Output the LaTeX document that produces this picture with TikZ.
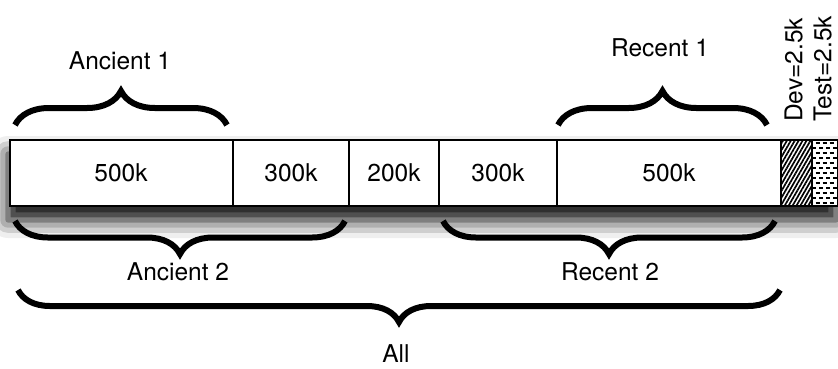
\documentclass[tikz,border=0pt]{standalone}
\usepackage{fontspec}
\setmainfont{TeX Gyre Heros}
\usetikzlibrary{decorations.pathreplacing,shadows.blur,patterns.meta}

\tikzset{
  lbl/.style={font=\fontsize{24.5}{29}\selectfont, inner sep=0pt},
  curly/.style={decorate, decoration={brace, amplitude=#1}, line width=6pt},
  curlydown/.style={decorate, decoration={brace, mirror, amplitude=#1}, line width=6pt},
}

\begin{document}
\begin{tikzpicture}[x=1pt,y=-1pt]
\useasboundingbox (0,0) rectangle (838,368);
\draw[line width=1.8pt, fill=white, blur shadow={shadow xshift=-2pt, shadow yshift=-14pt, shadow blur radius=18pt, shadow opacity=100}] (10,140) rectangle (838,206);
\foreach \x in {233,349,439,557}
  \draw[line width=1.1pt] (\x,140) -- (\x,206);
\draw[line width=1.8pt, pattern={Lines[angle=60, distance=3.4pt, line width=1.7pt]}] (781,140) rectangle (812,206);
\begin{scope}
\clip (812,141) rectangle (837,205);
\foreach \y [count=\i] in {143,148,...,206}
  \draw[line width=1.2pt, dash pattern=on 4pt off 3pt, dash phase={mod(\i,2)*3.5}] (812,\y) -- (838,\y);
\end{scope}
\draw[line width=1.8pt] (10,140) rectangle (838,206);
\draw[line width=1.8pt] (781,140) -- (781,206) (812,140) -- (812,206);

\node[lbl] (c500a) at (121,173) {500k};
\node[lbl] (c300a) at (291,173) {300k};
\node[lbl] (c200) at (394,173) {200k};
\node[lbl] (c300b) at (498,173) {300k};
\node[lbl] (c500b) at (669,173) {500k};

\node[lbl, rotate=90, anchor=south west] (dev) at (803,122) {Dev=2.5k};
\node[lbl, rotate=90, anchor=south west] (test) at (832,122) {Test=2.5k};

\coordinate (a1l) at (15,125);
\coordinate (a1r) at (227,125);
\coordinate (r1l) at (558,125);
\coordinate (r1r) at (767,125);
\coordinate (a2l) at (15,221);
\coordinate (a2r) at (345,221);
\coordinate (r2l) at (443,221);
\coordinate (r2r) at (775,221);
\coordinate (alll) at (18,290);
\coordinate (allr) at (780,290);

\draw[curly=34pt] (a1l) -- (a1r);
\draw[curly=34pt] (r1l) -- (r1r);
\draw[curlydown=33pt] (a2l) -- (a2r);
\draw[curlydown=33pt] (r2l) -- (r2r);
\draw[curlydown=32pt] (alll) -- (allr);

\node[lbl] (ancient1) at (120,61) {Ancient 1};
\node[lbl] (recent1) at (660,48) {Recent 1};
\node[lbl] (ancient2) at (178,272) {Ancient 2};
\node[lbl] (recent2) at (610,272) {Recent 2};
\node[lbl] (all) at (396,354) {All};
\end{tikzpicture}
\end{document}
